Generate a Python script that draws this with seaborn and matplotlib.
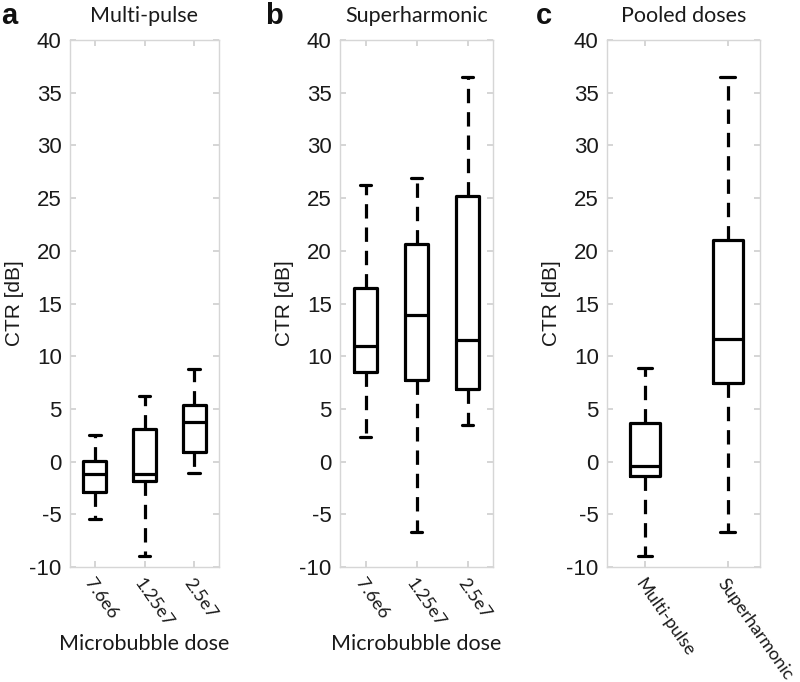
import numpy as np
import pandas as pd
import matplotlib
matplotlib.use("Agg")
import matplotlib.pyplot as plt
import seaborn as sns

# five-number summaries: [lower whisker, Q1, median, Q3, upper whisker]
doses = ["7.6e6", "1.25e7", "2.5e7"]
multi_pulse = [
    [-5.4, -2.9, -1.2, 0.1, 2.5],
    [-9.0, -1.8, -1.2, 3.1, 6.2],
    [-1.1, 0.9, 3.8, 5.4, 8.8],
]
superharmonic = [
    [2.3, 8.5, 11.0, 16.5, 26.2],
    [-6.7, 7.7, 13.9, 20.6, 26.9],
    [3.5, 6.9, 11.5, 25.2, 36.5],
]
pooled_labels = ["Multi-pulse", "Superharmonic"]
pooled = [
    [-9.0, -1.4, -0.4, 3.7, 8.9],
    [-6.7, 7.5, 11.6, 21.0, 36.5],
]
yticks = list(range(-10, 45, 5))

SANS = ["Liberation Sans", "DejaVu Sans"]
SOFT = ["Lato", "DejaVu Sans"]


def to_long(labels, summaries):
    rows = []
    for lab, vals in zip(labels, summaries):
        for v in vals:
            rows.append({"group": lab, "ctr": v})
    return pd.DataFrame(rows)


def draw_panel(ax, labels, summaries, width, xlim, title, xlabel, ylab_x):
    df = to_long(labels, summaries)
    # with 5 points the quartiles land on the 2nd/3rd/4th values, whis=inf -> min/max
    sns.boxplot(data=df, x="group", y="ctr", order=labels, ax=ax,
                whis=np.inf, width=width, fill=False, color="black",
                linewidth=2.3,
                whiskerprops=dict(linestyle=(0, (4.5, 2.8))),
                medianprops=dict(color="black"))
    ax.set_ylim(-10, 40)
    ax.set_xlim(*xlim)
    ax.set_yticks(yticks)
    ax.set_yticklabels([str(t) for t in yticks], fontsize=16,
                       family=SANS, color="#1a1a1a")
    ax.set_xticks(range(len(labels)))
    ax.set_xticklabels(labels, rotation=-55, ha="left", va="top",
                       rotation_mode="anchor", fontsize=13,
                       family=SOFT, color="#1a1a1a")
    ax.tick_params(axis="both", direction="in", length=4, color="#d0d0d0",
                   top=True, right=True, left=True, bottom=True, pad=6)
    ax.tick_params(axis="x", pad=6)
    for sp in ax.spines.values():
        sp.set_visible(True)
        sp.set_color("#d6d6d6")
        sp.set_linewidth(1.0)
    ax.set_ylabel("CTR [dB]", fontsize=15, family=SANS, color="#1a1a1a")
    ax.yaxis.set_label_coords(ylab_x, 0.5)
    ax.set_xlabel(xlabel, fontsize=15.5, family=SOFT, color="#1a1a1a")
    ax.xaxis.set_label_coords(0.5, -0.127)
    ax.set_title(title, fontsize=15.5, family=SOFT, color="#1a1a1a", pad=13)
    ax.grid(False)


sns.set_theme(style="white")
plt.rcParams["font.family"] = SANS

fig = plt.figure(figsize=(8, 6.82), dpi=100)
W, H = 800, 682
bottom = 1 - 567 / H
height = (567 - 40) / H
ax_a = fig.add_axes([70 / W, bottom, 149 / W, height])
ax_b = fig.add_axes([340 / W, bottom, 153 / W, height])
ax_c = fig.add_axes([607 / W, bottom, 153 / W, height])

draw_panel(ax_a, doses, multi_pulse, 0.46, (-0.5, 2.5), "Multi-pulse", "Microbubble dose", -46 / 149)
draw_panel(ax_b, doses, superharmonic, 0.46, (-0.5, 2.5), "Superharmonic", "Microbubble dose", -46 / 153)
draw_panel(ax_c, pooled_labels, pooled, 0.36, (-0.46, 1.39), "Pooled doses", "", -46 / 153)

# panel letters
for x, letter in [(1, "a"), (265, "b"), (536, "c")]:
    fig.text(x / W, 1 - 16 / H, letter, fontsize=21, fontweight="bold",
             family=SANS, ha="left", va="center", color="#111111")

fig.savefig("out.png", dpi=100)
